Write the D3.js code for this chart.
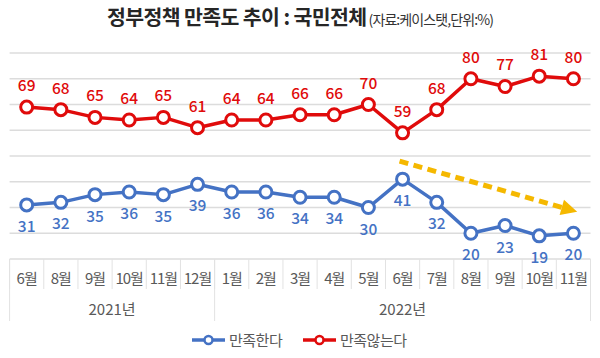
<!DOCTYPE html>
<html>
<head>
<meta charset="utf-8">
<script src="https://cdn.jsdelivr.net/npm/d3@7"></script>
<style>
  body { margin: 0; background: #fff; }
  text { font-family: "Noto Sans CJK KR", "Noto Sans", sans-serif; }
</style>
</head>
<body>
<div id="chart"></div>
<script>
const months = ["6월","8월","9월","10월","11월","12월","1월","2월","3월","4월","5월","6월","7월","8월","9월","10월","11월"];
const years = [{ label: "2021년", from: 0, to: 5 }, { label: "2022년", from: 6, to: 16 }];
const satisfied = [31,32,35,36,35,39,36,36,34,34,30,41,32,20,23,19,20];
const dissatisfied = [69,68,65,64,65,61,64,64,66,66,70,59,68,80,77,81,80];
const yTicks = [10,20,30,40,50,60,70,80,90];

const width = 600, height = 358;
const blue = "#4472c4", red = "#e00b0b", gold = "#f5b800";

const svg = d3.select("#chart").append("svg")
    .attr("width", width)
    .attr("height", height);

const x = d3.scaleBand()
    .domain(d3.range(months.length))
    .range([9.6, 590.5]);
const bw = x.bandwidth();
const cx = i => x(i) + bw / 2;

const y = d3.scaleLinear()
    .domain([10, 90])
    .range([259, 53]);

// title
const title = svg.append("text")
    .attr("x", 300)
    .attr("y", 25)
    .attr("text-anchor", "middle");
title.append("tspan")
    .attr("font-size", 20.5)
    .attr("font-weight", 700)
    .attr("fill", "#262626")
    .attr("letter-spacing", -0.6)
    .text("정부정책 만족도 추이 : 국민전체");
title.append("tspan")
    .attr("font-size", 14)
    .attr("fill", "#333")
    .attr("letter-spacing", -0.9)
    .attr("dx", 2)
    .text("(자료:케이스탯,단위:%)");

// gridlines
svg.append("g")
    .selectAll("line")
    .data(yTicks)
    .join("line")
    .attr("x1", 9.6)
    .attr("x2", 590.5)
    .attr("y1", d => y(d))
    .attr("y2", d => y(d))
    .attr("stroke", "#dcdcdc")
    .attr("stroke-width", 1.3);

// category axis as table cells
const axis = svg.append("g").attr("stroke", "#e2e2e2").attr("stroke-width", 1);
const bounds = d3.range(months.length + 1).map(i => i < months.length ? x(i) : x(i - 1) + bw);
axis.selectAll("line.cell")
    .data(bounds)
    .join("line")
    .attr("class", "cell")
    .attr("x1", d => d)
    .attr("x2", d => d)
    .attr("y1", y(10))
    .attr("y2", 289);
const yearBounds = [bounds[0], bounds[6], bounds[months.length]];
axis.selectAll("line.year")
    .data(yearBounds)
    .join("line")
    .attr("class", "year")
    .attr("x1", d => d)
    .attr("x2", d => d)
    .attr("y1", y(10))
    .attr("y2", 321);

svg.append("g")
    .selectAll("text")
    .data(months)
    .join("text")
    .attr("x", (d, i) => cx(i))
    .attr("y", 283.5)
    .attr("text-anchor", "middle")
    .attr("font-size", 15)
    .attr("letter-spacing", -1)
    .attr("fill", "#595959")
    .text(d => d);

svg.append("g")
    .selectAll("text")
    .data(years)
    .join("text")
    .attr("x", d => (x(d.from) + x(d.to) + bw) / 2)
    .attr("y", 314.5)
    .attr("text-anchor", "middle")
    .attr("font-size", 15)
    .attr("fill", "#595959")
    .text(d => d.label);

// series
const line = d3.line()
    .x((d, i) => cx(i))
    .y(d => y(d));

function drawSeries(values, color, above) {
    const g = svg.append("g");
    g.append("path")
        .datum(values)
        .attr("d", line)
        .attr("fill", "none")
        .attr("stroke", color)
        .attr("stroke-width", 3.5)
        .attr("stroke-linejoin", "round");
    g.selectAll("circle")
        .data(values)
        .join("circle")
        .attr("cx", (d, i) => cx(i))
        .attr("cy", d => y(d))
        .attr("r", 6)
        .attr("fill", "#fff")
        .attr("stroke", color)
        .attr("stroke-width", 3);
    g.selectAll("text")
        .data(values)
        .join("text")
        .attr("x", (d, i) => cx(i))
        .attr("y", d => above ? y(d) - 16 : y(d) + 27)
        .attr("text-anchor", "middle")
        .attr("font-size", 15.5)
        .attr("font-weight", 500)
        .attr("fill", color)
        .text(d => d);
}
drawSeries(dissatisfied, red, true);
drawSeries(satisfied, blue, false);

// trend arrow (annotation)
const a0 = [cx(11) - 3, y(48)], a1 = [cx(16) - 2, y(29)];
const ang = Math.atan2(a1[1] - a0[1], a1[0] - a0[0]);
svg.append("line")
    .attr("x1", a0[0])
    .attr("y1", a0[1])
    .attr("x2", a1[0] - 10 * Math.cos(ang))
    .attr("y2", a1[1] - 10 * Math.sin(ang))
    .attr("stroke", gold)
    .attr("stroke-width", 5)
    .attr("stroke-dasharray", "9 5.5");
const tip = [a1[0] + 6 * Math.cos(ang), a1[1] + 6 * Math.sin(ang)];
const back = 16, half = 8;
const bx = tip[0] - back * Math.cos(ang), by = tip[1] - back * Math.sin(ang);
svg.append("path")
    .attr("d", d3.line()([
        tip,
        [bx - half * Math.sin(ang), by + half * Math.cos(ang)],
        [bx + half * Math.sin(ang), by - half * Math.cos(ang)]
    ]) + "Z")
    .attr("fill", gold);

// legend
const legend = svg.append("g").attr("transform", "translate(0,340)");
const items = [{ label: "만족한다", color: blue, x: 192 }, { label: "만족않는다", color: red, x: 303 }];
const li = legend.selectAll("g")
    .data(items)
    .join("g")
    .attr("transform", d => `translate(${d.x},0)`);
li.append("line")
    .attr("x1", 0).attr("x2", 33)
    .attr("stroke", d => d.color)
    .attr("stroke-width", 3.5);
li.append("circle")
    .attr("cx", 16.5).attr("r", 4)
    .attr("fill", "#fff")
    .attr("stroke", d => d.color)
    .attr("stroke-width", 2.5);
li.append("text")
    .attr("x", 37)
    .attr("y", 5.5)
    .attr("font-size", 15)
    .attr("letter-spacing", -0.5)
    .attr("fill", "#595959")
    .text(d => d.label);
</script>
</body>
</html>
